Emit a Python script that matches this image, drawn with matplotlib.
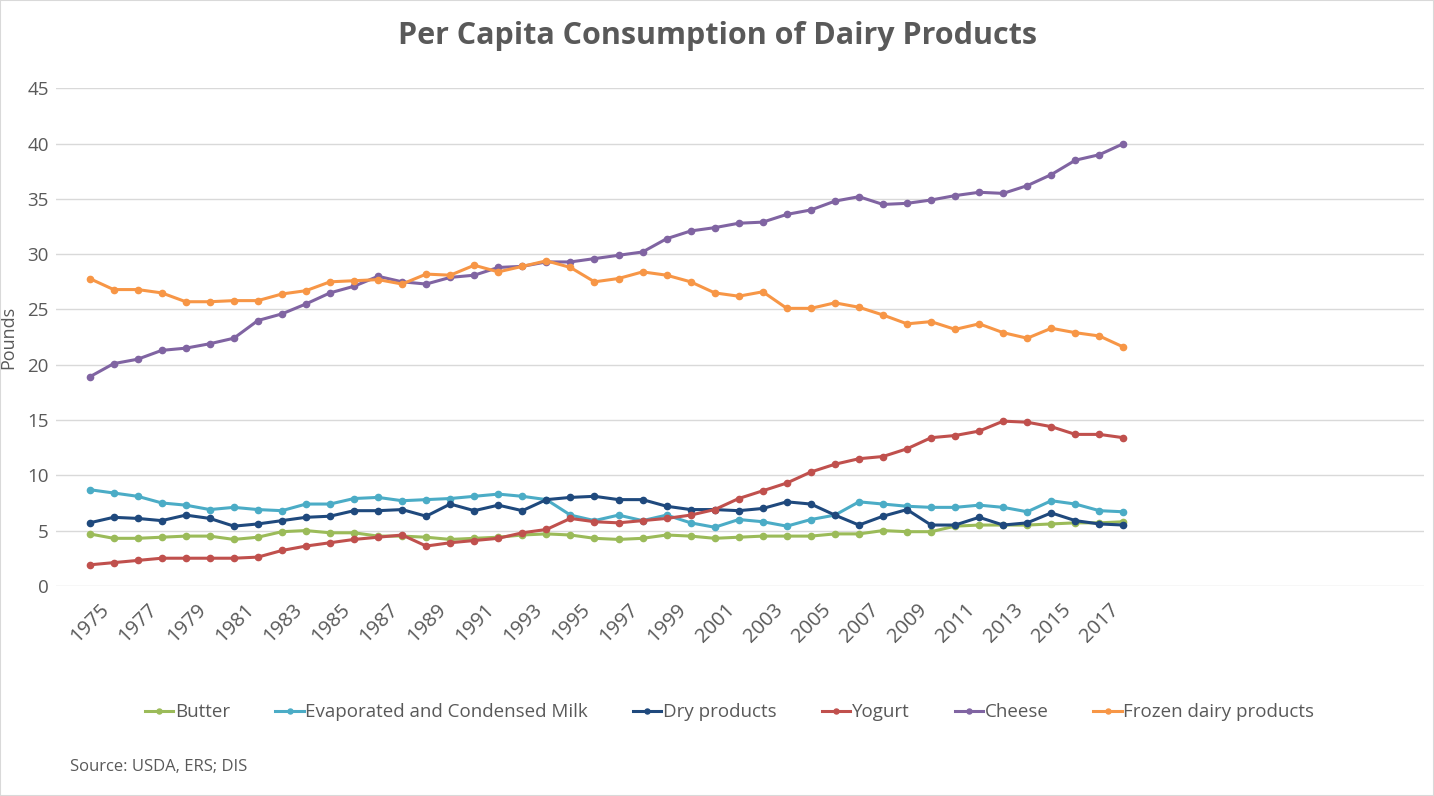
import numpy as np
import matplotlib.pyplot as plt
import matplotlib.transforms as mtransforms
from matplotlib.patches import Rectangle

plt.rcParams['font.family'] = ['Open Sans', 'DejaVu Sans']

# Years 1975 - 2018
years = np.arange(1975, 2019)

butter = [4.7, 4.3, 4.3, 4.4, 4.5, 4.5, 4.2, 4.4, 4.9, 5.0, 4.8, 4.8, 4.5, 4.5, 4.4,
          4.2, 4.3, 4.4, 4.6, 4.7, 4.6, 4.3, 4.2, 4.3, 4.6, 4.5, 4.3, 4.4, 4.5, 4.5,
          4.5, 4.7, 4.7, 5.0, 4.9, 4.9, 5.4, 5.5, 5.5, 5.5, 5.6, 5.7, 5.7, 5.8]
evap_milk = [8.7, 8.4, 8.1, 7.5, 7.3, 6.9, 7.1, 6.9, 6.8, 7.4, 7.4, 7.9, 8.0, 7.7, 7.8,
             7.9, 8.1, 8.3, 8.1, 7.8, 6.4, 5.9, 6.4, 5.9, 6.4, 5.7, 5.3, 6.0, 5.8, 5.4,
             6.0, 6.4, 7.6, 7.4, 7.2, 7.1, 7.1, 7.3, 7.1, 6.7, 7.7, 7.4, 6.8, 6.7]
dry_products = [5.7, 6.2, 6.1, 5.9, 6.4, 6.1, 5.4, 5.6, 5.9, 6.2, 6.3, 6.8, 6.8, 6.9, 6.3,
                7.4, 6.8, 7.3, 6.8, 7.8, 8.0, 8.1, 7.8, 7.8, 7.2, 6.9, 6.9, 6.8, 7.0, 7.6,
                7.4, 6.4, 5.5, 6.3, 6.9, 5.5, 5.5, 6.2, 5.5, 5.7, 6.6, 5.9, 5.6, 5.5]
yogurt = [1.9, 2.1, 2.3, 2.5, 2.5, 2.5, 2.5, 2.6, 3.2, 3.6, 3.9, 4.2, 4.4, 4.6, 3.6,
          3.9, 4.1, 4.3, 4.8, 5.1, 6.1, 5.8, 5.7, 5.9, 6.1, 6.4, 6.9, 7.9, 8.6, 9.3,
          10.3, 11.0, 11.5, 11.7, 12.4, 13.4, 13.6, 14.0, 14.9, 14.8, 14.4, 13.7, 13.7, 13.4]
cheese = [18.9, 20.1, 20.5, 21.3, 21.5, 21.9, 22.4, 24.0, 24.6, 25.5, 26.5, 27.1, 28.0, 27.5, 27.3,
          27.9, 28.1, 28.8, 28.9, 29.3, 29.3, 29.6, 29.9, 30.2, 31.4, 32.1, 32.4, 32.8, 32.9, 33.6,
          34.0, 34.8, 35.2, 34.5, 34.6, 34.9, 35.3, 35.6, 35.5, 36.2, 37.2, 38.5, 39.0, 40.0]
frozen = [27.8, 26.8, 26.8, 26.5, 25.7, 25.7, 25.8, 25.8, 26.4, 26.7, 27.5, 27.6, 27.7, 27.3, 28.2,
          28.1, 29.0, 28.4, 28.9, 29.4, 28.8, 27.5, 27.8, 28.4, 28.1, 27.5, 26.5, 26.2, 26.6, 25.1,
          25.1, 25.6, 25.2, 24.5, 23.7, 23.9, 23.2, 23.7, 22.9, 22.4, 23.3, 22.9, 22.6, 21.6]

series = [
    ("Butter", butter, "#9BBB59"),
    ("Evaporated and Condensed Milk", evap_milk, "#4BACC6"),
    ("Dry products", dry_products, "#1F497D"),
    ("Yogurt", yogurt, "#C0504D"),
    ("Cheese", cheese, "#8064A2"),
    ("Frozen dairy products", frozen, "#F79646"),
]

text_color = "#595959"

fig = plt.figure(figsize=(14.34, 7.96), dpi=100)
ax = fig.add_axes([0.039, 0.264, 0.954, 0.625])

for name, vals, col in series:
    ax.plot(years, vals, color=col, linewidth=2.2, marker='o', markersize=4.5, label=name)

ax.set_ylim(0, 45)
ax.set_yticks(np.arange(0, 46, 5))
ax.set_xlim(1973.6, 2030.5)
ax.set_xticks(np.arange(1975, 2018, 2))
ax.set_xticklabels([str(y) for y in range(1975, 2018, 2)], rotation=45, ha='right',
                   rotation_mode='anchor')
ax.tick_params(axis='both', length=0, labelcolor=text_color)
ax.tick_params(axis='x', pad=10, labelsize=14.5)
ax.tick_params(axis='y', pad=5, labelsize=13.5)

# nudge rotated year labels to the right, like the original
shift = mtransforms.ScaledTranslation(10 / 100, 0, fig.dpi_scale_trans)
for lbl in ax.get_xticklabels():
    lbl.set_transform(lbl.get_transform() + shift)

ax.grid(axis='y', color='#D9D9D9', linewidth=1)
ax.set_axisbelow(True)
for s in ax.spines.values():
    s.set_visible(False)

ax.set_ylabel("Pounds", fontsize=13, color=text_color)
ax.yaxis.set_label_coords(-0.028, 0.5)

fig.text(0.5, 0.955, "Per Capita Consumption of Dairy Products", ha='center', va='center',
         fontsize=22, fontweight='bold', color=text_color)

fig.legend(loc='center', bbox_to_anchor=(0.509, 0.105), ncol=6, frameon=False,
           fontsize=13.5, labelcolor=text_color, handlelength=1.5, handletextpad=0.1,
           columnspacing=2.4, markerscale=0.8)

fig.text(0.049, 0.036, "Source: USDA, ERS; DIS", fontsize=12, color=text_color, va='center')

fig.patches.append(Rectangle((0, 0), 1, 1, transform=fig.transFigure, fill=False,
                             edgecolor='#D9D9D9', linewidth=1.5))

fig.savefig("out.png", dpi=100)
